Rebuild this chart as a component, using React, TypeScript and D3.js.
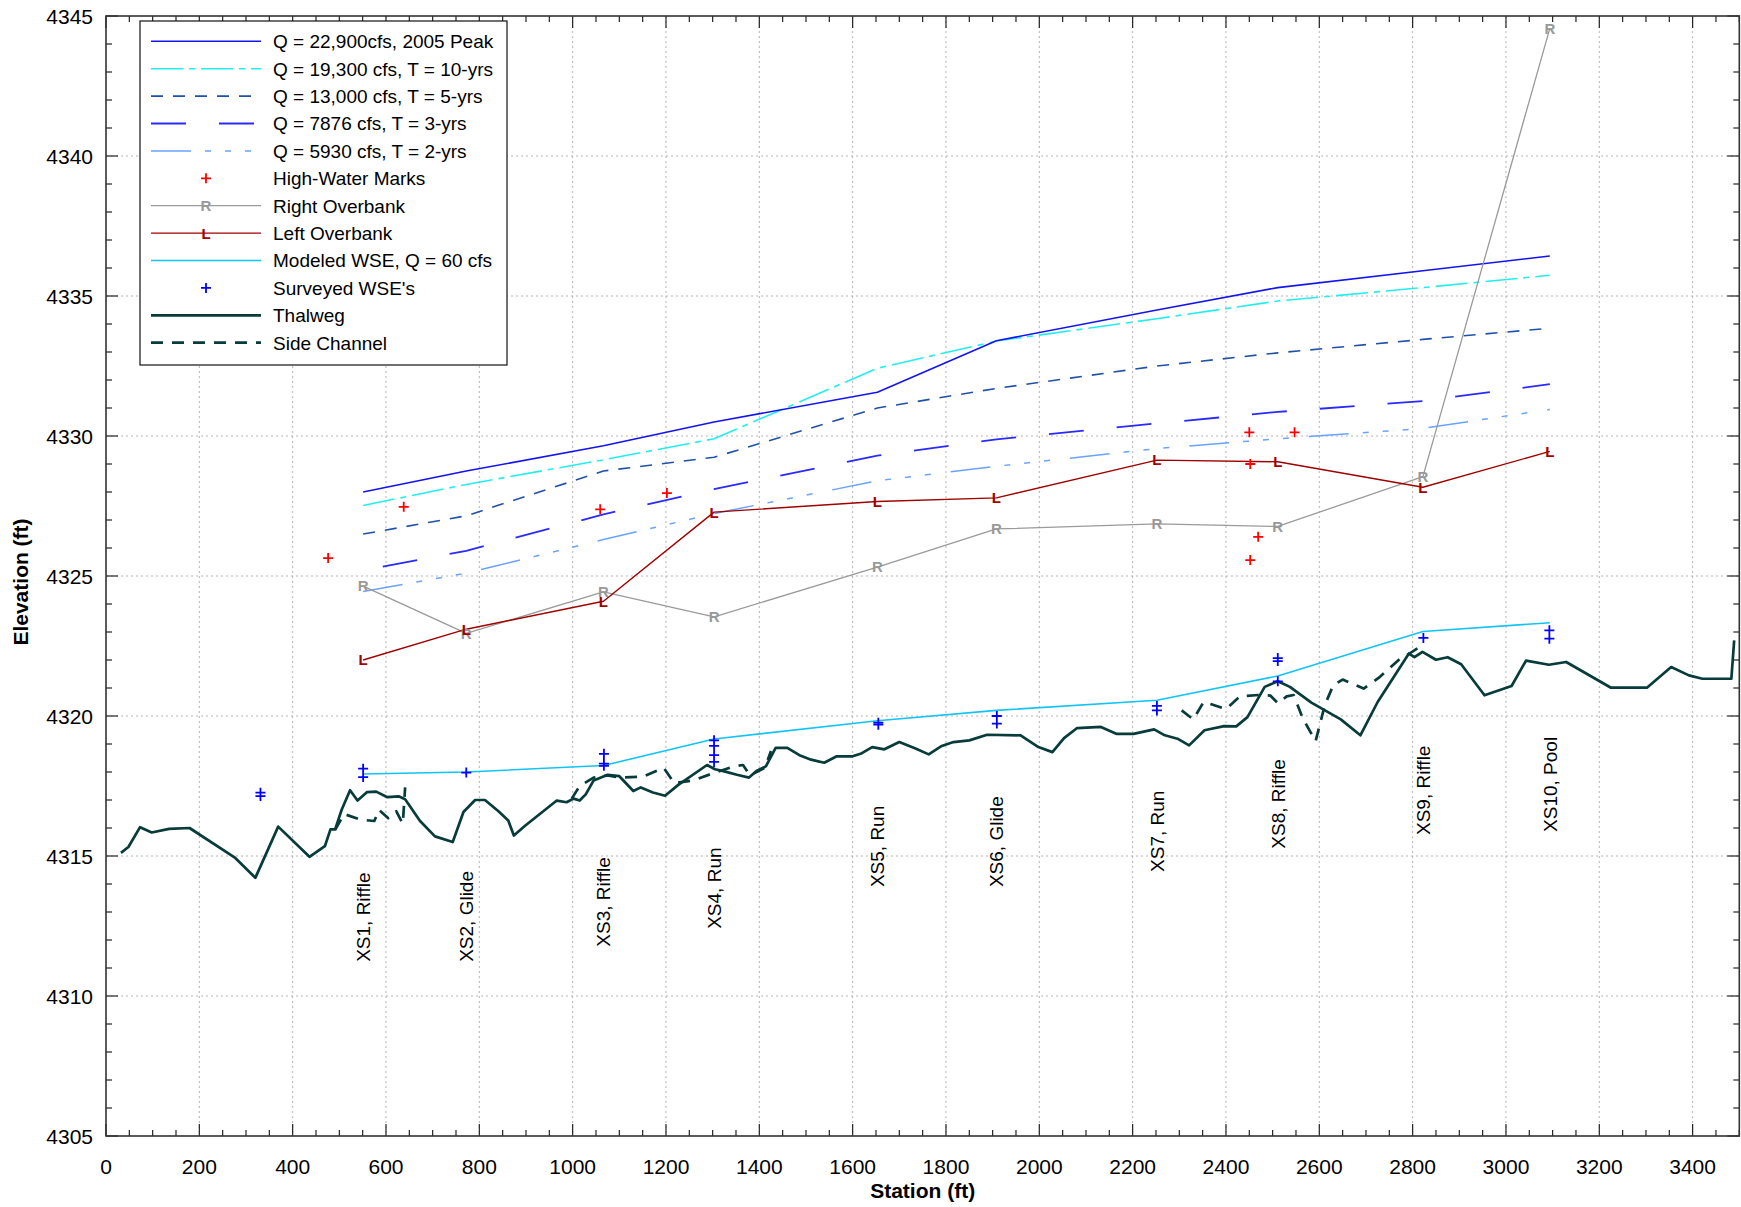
import React from "react";
import * as d3 from "d3";

// ---------- DATA ----------
const xsStations = [551, 772, 1066, 1303, 1653, 1908, 2252, 2511, 2822, 3094];
const xsLabels = ["XS1, Riffle", "XS2, Glide", "XS3, Riffle", "XS4, Run", "XS5, Run", "XS6, Glide", "XS7, Run", "XS8, Riffle", "XS9, Riffle", "XS10, Pool"];
const xsLabelElev = [4311.22, 4311.22, 4311.76, 4312.4, 4313.89, 4313.89, 4314.43, 4315.26, 4315.75, 4315.86];

const q22900 = [4328.0, 4328.75, 4329.65, 4330.5, 4331.56, 4333.4, 4334.5, 4335.3, 4335.9, 4336.43];
const q19300 = [4327.52, 4328.27, 4329.15, 4329.9, 4332.42, 4333.39, 4334.19, 4334.82, 4335.3, 4335.74];
const q13000 = [4326.5, 4327.15, 4328.75, 4329.24, 4331.0, 4331.7, 4332.5, 4332.97, 4333.45, 4333.85];
const q7876 = [4325.2, 4325.9, 4327.2, 4328.1, 4329.3, 4329.88, 4330.45, 4330.86, 4331.25, 4331.85];
const q5930 = [4324.45, 4325.1, 4326.3, 4327.23, 4328.4, 4328.92, 4329.55, 4329.9, 4330.27, 4330.95];
const rightOverbank = [4324.64, 4322.95, 4324.43, 4323.54, 4325.32, 4326.68, 4326.86, 4326.77, 4328.55, 4344.56];
const leftOverbank = [4322.0, 4323.1, 4324.1, 4327.28, 4327.66, 4327.79, 4329.14, 4329.08, 4328.17, 4329.45];
const modeledWSE = [4317.93, 4318.0, 4318.23, 4319.18, 4319.83, 4320.2, 4320.56, 4321.43, 4323.02, 4323.33];

const hwmStation = [476, 638, 1059, 1202, 2450, 2547, 2452, 2469, 2452];
const hwmElev = [4325.64, 4327.47, 4327.38, 4327.96, 4330.13, 4330.13, 4329.0, 4326.4, 4325.57];

const surveyedStation = [331, 331, 551, 551, 772, 1067, 1067, 1067, 1303, 1303, 1303, 1303, 1655, 1655, 1909, 1909, 2252, 2252, 2511, 2511, 2511, 2823, 3093, 3093];
const surveyedElev = [4317.26, 4317.14, 4318.12, 4317.82, 4317.98, 4318.65, 4318.3, 4318.22, 4319.13, 4318.93, 4318.6, 4318.36, 4319.76, 4319.69, 4320.0, 4319.73, 4320.36, 4320.2, 4322.07, 4321.96, 4321.24, 4322.79, 4323.06, 4322.76];

const thalwegStation = [32, 48, 73, 98, 135, 179, 277, 320, 369, 436, 469, 481, 491, 505, 523, 539, 559, 579, 603, 627, 641, 673, 705, 743, 766, 791, 812, 841, 862, 874, 898, 966, 987, 1002, 1015, 1028, 1045, 1075, 1100, 1130, 1146, 1172, 1198, 1227, 1288, 1305, 1323, 1352, 1378, 1395, 1414, 1435, 1460, 1486, 1511, 1539, 1566, 1600, 1617, 1642, 1668, 1700, 1736, 1763, 1791, 1816, 1850, 1888, 1960, 1998, 2028, 2053, 2081, 2132, 2166, 2202, 2246, 2269, 2296, 2321, 2354, 2396, 2422, 2446, 2483, 2511, 2537, 2583, 2646, 2688, 2725, 2792, 2804, 2821, 2850, 2875, 2904, 2954, 3012, 3043, 3092, 3129, 3225, 3302, 3354, 3392, 3421, 3483, 3489];
const thalwegElev = [4315.11, 4315.32, 4316.03, 4315.84, 4315.97, 4316.0, 4314.93, 4314.22, 4316.05, 4314.97, 4315.35, 4315.95, 4315.95, 4316.65, 4317.35, 4316.98, 4317.28, 4317.3, 4317.1, 4317.13, 4317.03, 4316.25, 4315.7, 4315.5, 4316.57, 4317.0, 4317.0, 4316.6, 4316.27, 4315.73, 4316.08, 4316.98, 4316.92, 4317.05, 4316.98, 4317.2, 4317.7, 4317.9, 4317.85, 4317.32, 4317.45, 4317.27, 4317.15, 4317.55, 4318.25, 4318.1, 4318.03, 4317.9, 4317.8, 4318.05, 4318.2, 4318.86, 4318.86, 4318.6, 4318.44, 4318.33, 4318.56, 4318.56, 4318.65, 4318.89, 4318.81, 4319.07, 4318.83, 4318.63, 4318.93, 4319.07, 4319.13, 4319.33, 4319.31, 4318.89, 4318.71, 4319.21, 4319.57, 4319.61, 4319.36, 4319.36, 4319.52, 4319.31, 4319.19, 4318.95, 4319.49, 4319.64, 4319.63, 4319.96, 4321.04, 4321.24, 4321.04, 4320.48, 4319.88, 4319.31, 4320.5, 4322.23, 4322.1, 4322.29, 4322.01, 4322.1, 4321.85, 4320.74, 4321.07, 4321.98, 4321.83, 4321.93, 4321.01, 4321.01, 4321.75, 4321.45, 4321.33, 4321.33, 4322.7];

const side1Station = [491, 510, 545, 575, 585, 605, 622, 636, 641];
const side1Elev = [4315.93, 4316.5, 4316.3, 4316.25, 4316.65, 4316.35, 4316.6, 4316.15, 4317.45];
const side2Station = [998, 1015, 1045, 1075, 1100, 1150, 1195, 1218, 1258, 1300, 1345, 1365, 1380, 1412, 1425];
const side2Elev = [4317.05, 4317.5, 4317.8, 4317.88, 4317.8, 4317.83, 4318.15, 4317.6, 4317.7, 4317.95, 4318.2, 4318.25, 4317.88, 4318.15, 4318.75];
const side3Station = [2305, 2330, 2352, 2372, 2400, 2430, 2470, 2495, 2512, 2530, 2545, 2565, 2592, 2612, 2630, 2650, 2695, 2730, 2770, 2795, 2822];
const side3Elev = [4320.2, 4319.88, 4320.5, 4320.4, 4320.25, 4320.7, 4320.75, 4320.73, 4320.45, 4320.7, 4320.75, 4319.9, 4319.1, 4320.4, 4321.1, 4321.3, 4320.98, 4321.4, 4322.0, 4322.25, 4322.55];

const legendLabels = [
  "Q = 22,900cfs, 2005 Peak",
  "Q = 19,300 cfs, T = 10-yrs",
  "Q = 13,000 cfs, T = 5-yrs",
  "Q = 7876 cfs, T = 3-yrs",
  "Q = 5930 cfs, T = 2-yrs",
  "High-Water Marks",
  "Right Overbank",
  "Left Overbank",
  "Modeled WSE, Q = 60 cfs",
  "Surveyed WSE's",
  "Thalweg",
  "Side Channel",
];

const xTickValues = d3.range(0, 3401, 200);
const yTickValues = d3.range(4305, 4346, 5);

// ---------- STYLE ----------
const FONT = "'Liberation Sans', Arial, Helvetica, sans-serif";
const W = 1741;
const H = 1207;
const PL = 106, PR = 1739.3, PT = 16, PB = 1136;

type Style = { color: string; width: number; dash?: string; offset?: number };
const sQ22900: Style = { color: "#1414f0", width: 1.6 };
const sQ19300: Style = { color: "#22eeee", width: 1.6, dash: "32,6,6,6" };
const sQ13000: Style = { color: "#2050a8", width: 1.6, dash: "12,10" };
const sQ7876: Style = { color: "#2a2aff", width: 1.8, dash: "35,33", offset: 48 };
const sQ5930: Style = { color: "#6aa2ff", width: 1.5, dash: "40,14,6,14,6,14,6,20" };
const sROB: Style = { color: "#9a9a9a", width: 1.3 };
const sLOB: Style = { color: "#a00000", width: 1.4 };
const sWSE: Style = { color: "#12c4f4", width: 1.6 };
const sThal: Style = { color: "#083c3a", width: 2.7 };
const sSide: Style = { color: "#083c3a", width: 2.7, dash: "12,9" };

export default function App() {
  const x = d3.scaleLinear().domain([0, 3500]).range([PL, PR]);
  const y = d3.scaleLinear().domain([4305, 4345]).range([PB, PT]);
  const line = d3
    .line<[number, number]>()
    .x((d) => x(d[0]))
    .y((d) => y(d[1]));
  const zip = (a: number[], b: number[]) => a.map((v, i) => [v, b[i]] as [number, number]);

  const plus = (cx: number, cy: number, r = 5) => `M${cx - r},${cy}h${2 * r}M${cx},${cy - r}v${2 * r}`;

  const path = (d: [number, number][], s: Style, key: string) => (
    <path key={key} d={line(d) || ""} fill="none" stroke={s.color} strokeWidth={s.width} strokeDasharray={s.dash} strokeDashoffset={s.offset} strokeLinejoin="round" />
  );

  const xMinor = d3.range(0, 3501, 50);
  const yMinor = d3.range(4305, 4346, 1);

  // Legend geometry
  const LX0 = 140, LY0 = 21, LX1 = 507, LY1 = 365;
  const rowY = (i: number) => 41.3 + i * 27.4;
  const lineStyles = [sQ22900, sQ19300, sQ13000, sQ7876, sQ5930];

  return (
    <svg width={W} height={H} style={{ position: "absolute", left: 0, top: 0, background: "#fff" }} fontFamily={FONT}>
      <rect x={0} y={0} width={W} height={H} fill="#fff" />
      {/* grid */}
      <g stroke="#b4b4b4" strokeWidth={1} strokeDasharray="2,3">
        {xTickValues.filter((v) => v > 0).map((v) => (
          <line key={"gx" + v} x1={x(v)} x2={x(v)} y1={PT} y2={PB} />
        ))}
        {yTickValues.filter((v) => v > 4305 && v < 4345).map((v) => (
          <line key={"gy" + v} x1={PL} x2={PR} y1={y(v)} y2={y(v)} />
        ))}
      </g>
      {/* ticks */}
      <g stroke="#222" strokeWidth={1.2}>
        {xMinor.map((v) => {
          const len = v % 200 === 0 ? 12 : 6;
          return (
            <g key={"tx" + v}>
              <line x1={x(v)} x2={x(v)} y1={PB} y2={PB - len} />
              <line x1={x(v)} x2={x(v)} y1={PT} y2={PT + len} />
            </g>
          );
        })}
        {yMinor.map((v) => {
          const len = v % 5 === 0 ? 12 : 6;
          return (
            <g key={"ty" + v}>
              <line x1={PL} x2={PL + len} y1={y(v)} y2={y(v)} />
              <line x1={PR} x2={PR - len} y1={y(v)} y2={y(v)} />
            </g>
          );
        })}
      </g>
      {/* tick labels */}
      <g fontSize={21} fill="#000">
        {xTickValues.map((v) => (
          <text key={"lx" + v} x={x(v)} y={1174} textAnchor="middle">{v}</text>
        ))}
        {yTickValues.map((v) => (
          <text key={"ly" + v} x={93} y={y(v)} dy="0.36em" textAnchor="end">{v}</text>
        ))}
      </g>
      <text x={(PL + PR) / 2} y={1198} textAnchor="middle" fontWeight="bold" fontSize={21}>Station (ft)</text>
      <text transform={`translate(28,${(PT + PB) / 2 + 6}) rotate(-90)`} textAnchor="middle" fontWeight="bold" fontSize={21}>Elevation (ft)</text>

      {/* flood profiles */}
      {path(zip(xsStations, q5930), sQ5930, "q5930")}
      {path(zip(xsStations, q7876), sQ7876, "q7876")}
      {path(zip(xsStations, q13000), sQ13000, "q13000")}
      {path(zip(xsStations, q19300), sQ19300, "q19300")}
      {path(zip(xsStations, q22900), sQ22900, "q22900")}

      {/* overbanks */}
      {path(zip(xsStations, rightOverbank), sROB, "rob")}
      {path(zip(xsStations, leftOverbank), sLOB, "lob")}
      <g fontWeight="bold" fontSize={15} textAnchor="middle">
        {xsStations.map((s, i) => (
          <text key={"r" + i} x={x(s)} y={y(rightOverbank[i])} dy="0.36em" fill="#999">R</text>
        ))}
        {xsStations.map((s, i) => (
          <text key={"l" + i} x={x(s)} y={y(leftOverbank[i])} dy="0.36em" fill="#a00000">L</text>
        ))}
      </g>

      {/* HWM */}
      <path d={hwmStation.map((s, i) => plus(x(s), y(hwmElev[i]))).join("")} stroke="#ff0000" strokeWidth={1.8} fill="none" />

      {/* thalweg + side channels */}
      {path(zip(side1Station, side1Elev), sSide, "s1")}
      {path(zip(side2Station, side2Elev), sSide, "s2")}
      {path(zip(side3Station, side3Elev), sSide, "s3")}
      {path(zip(thalwegStation, thalwegElev), sThal, "thal")}

      {/* modeled WSE + surveyed */}
      {path(zip(xsStations, modeledWSE), sWSE, "wse")}
      <path d={surveyedStation.map((s, i) => plus(x(s), y(surveyedElev[i]))).join("")} stroke="#0000ff" strokeWidth={1.8} fill="none" />

      {/* XS labels */}
      <g fontSize={19} fill="#000">
        {xsStations.map((s, i) => (
          <text key={"xs" + i} transform={`translate(${x(s)},${y(xsLabelElev[i])}) rotate(-90)`} dy="0.36em" textAnchor="start">{xsLabels[i]}</text>
        ))}
      </g>

      {/* frame */}
      <rect x={PL} y={PT} width={PR - PL} height={PB - PT} fill="none" stroke="#333" strokeWidth={1.6} />

      {/* legend */}
      <rect x={LX0} y={LY0} width={LX1 - LX0} height={LY1 - LY0} fill="#fff" stroke="#111" strokeWidth={1.2} />
      <g fontSize={19}>
        {lineStyles.map((s, i) => (
          <line key={"lg" + i} x1={151} x2={261} y1={rowY(i)} y2={rowY(i)} stroke={s.color} strokeWidth={s.width} strokeDasharray={s.dash} />
        ))}
        <path d={plus(206, rowY(5))} stroke="#ff0000" strokeWidth={1.8} />
        <line x1={151} x2={261} y1={rowY(6)} y2={rowY(6)} stroke={sROB.color} strokeWidth={sROB.width} />
        <text x={206} y={rowY(6)} dy="0.36em" textAnchor="middle" fontWeight="bold" fontSize={15} fill="#999">R</text>
        <line x1={151} x2={261} y1={rowY(7)} y2={rowY(7)} stroke={sLOB.color} strokeWidth={sLOB.width} />
        <text x={206} y={rowY(7)} dy="0.36em" textAnchor="middle" fontWeight="bold" fontSize={15} fill="#a00000">L</text>
        <line x1={151} x2={261} y1={rowY(8)} y2={rowY(8)} stroke={sWSE.color} strokeWidth={sWSE.width} />
        <path d={plus(206, rowY(9))} stroke="#0000ff" strokeWidth={1.8} />
        <line x1={151} x2={261} y1={rowY(10)} y2={rowY(10)} stroke={sThal.color} strokeWidth={sThal.width} />
        <line x1={151} x2={261} y1={rowY(11)} y2={rowY(11)} stroke={sSide.color} strokeWidth={sSide.width} strokeDasharray={sSide.dash} />
        {legendLabels.map((t, i) => (
          <text key={"lt" + i} x={273} y={rowY(i)} dy="0.36em" fill="#000">{t}</text>
        ))}
      </g>
    </svg>
  );
}
